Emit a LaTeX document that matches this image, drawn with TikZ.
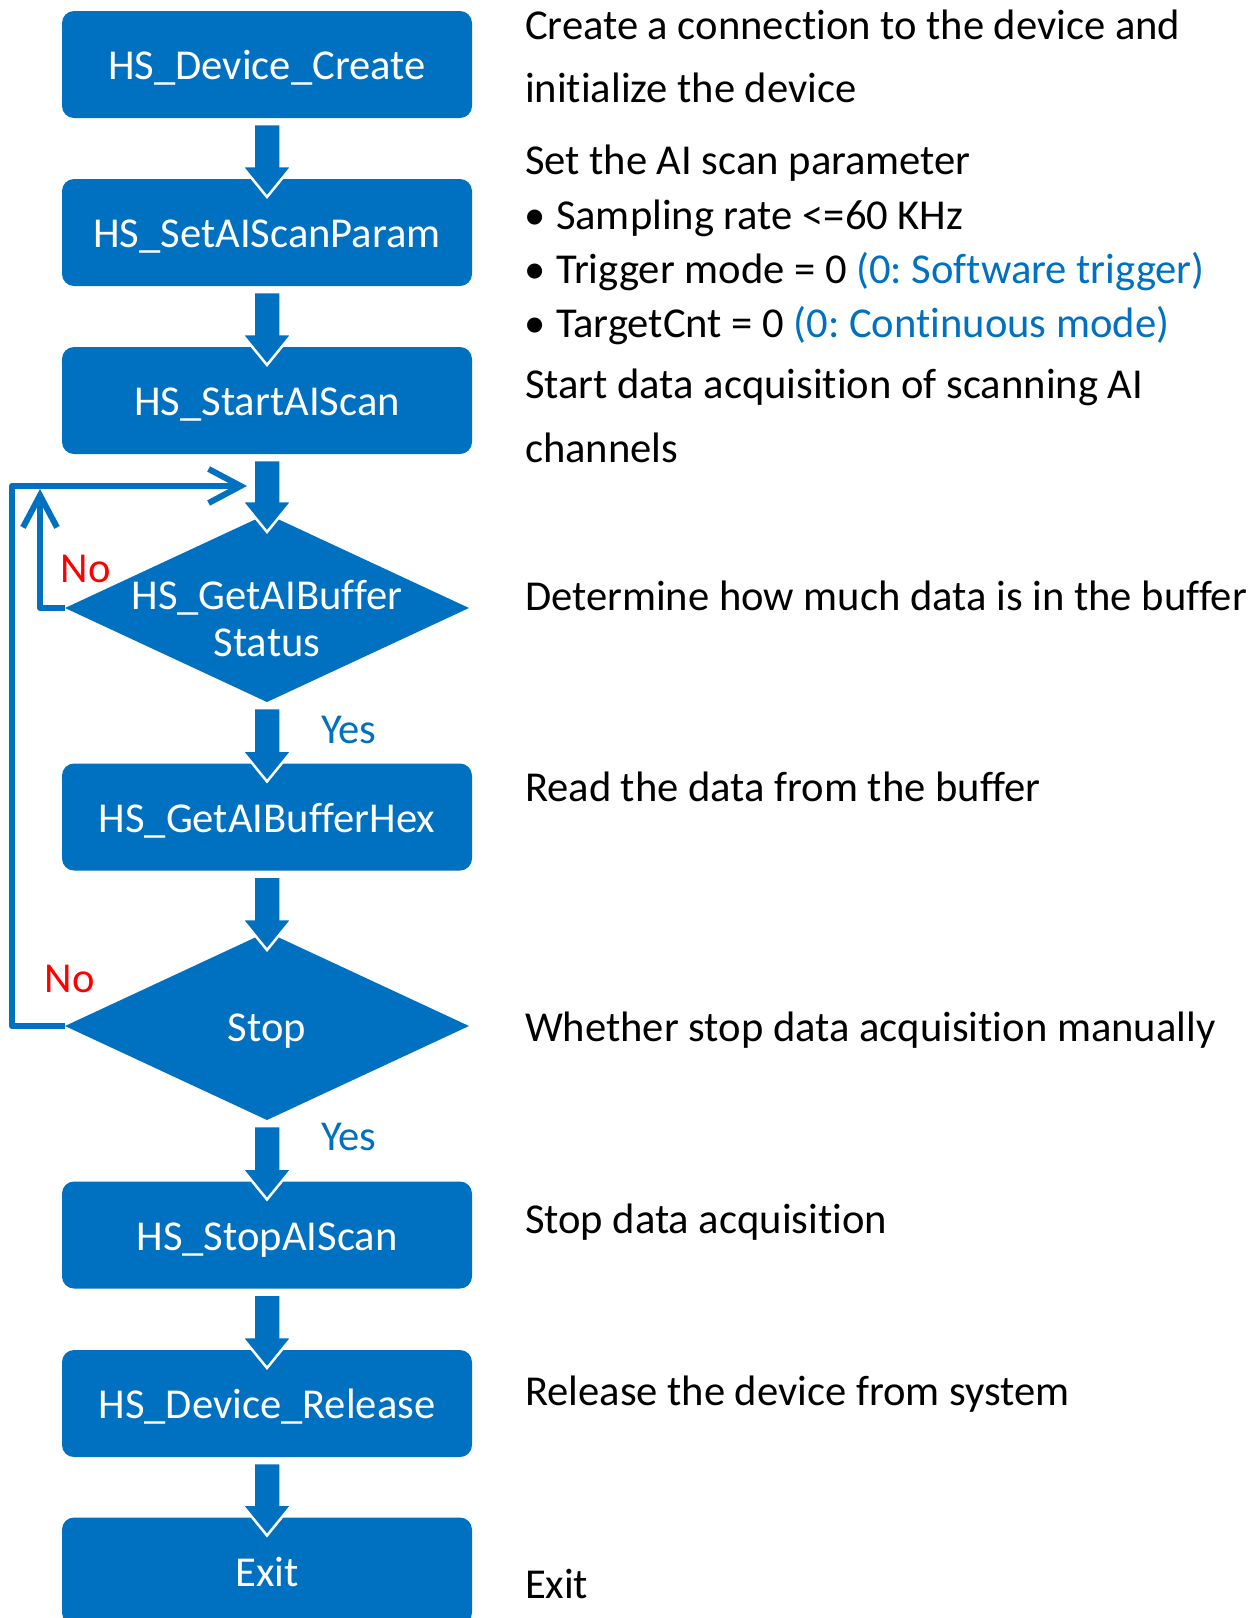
\documentclass[tikz,border=0pt]{standalone}
\usepackage{fontspec}
\setmainfont{Carlito}[Ligatures={NoCommon}]
\usetikzlibrary{shapes.geometric,arrows.meta,calc}
\definecolor{flowblue}{HTML}{0070C0}
\definecolor{nored}{HTML}{FF0000}

% thick block arrow from the bottom of one node into the top of the next
\newcommand\blockarrow[2]{%
  \fill[flowblue, draw=white, line width=1.25pt, line join=miter]
    let \p1=(#1.south), \p2=(#2.north) in
    (\x1-6.75pt,\y1-3pt) -- (\x1+6.75pt,\y1-3pt) -- (\x1+6.75pt,\y2+6.5pt)
    -- (\x1+12.6pt,\y2+6.5pt) -- (\x1,\y2-9pt) -- (\x1-12.6pt,\y2+6.5pt)
    -- (\x1-6.75pt,\y2+6.5pt) -- cycle;}

\tikzset{
  every node/.style={inner sep=0pt, outer sep=0pt},
  stepbox/.style={rectangle, rounded corners=6pt, fill=flowblue, text=white,
    minimum width=205pt, minimum height=53.5pt, text height=15pt, text depth=0pt},
  decision/.style={diamond, fill=flowblue, text=white,
    minimum width=202pt, minimum height=94pt, text height=15pt, text depth=0pt},
  onblue/.style={text=white, anchor=base},
  note/.style={anchor=base west, text=black},
  yeslabel/.style={anchor=base west, text=flowblue},
  nolabel/.style={anchor=base west, text=nored},
  loopline/.style={draw=flowblue, line width=3pt, line join=round,
    -{Straight Barb[length=16pt, width=17pt, sharp]}},
}

\begin{document}
\frenchspacing
\begin{tikzpicture}[x=0.5pt, y=-0.5pt, font=\fontsize{21.3pt}{24pt}\selectfont]
\useasboundingbox (0,0) rectangle (1258,1618);
\clip (0,0) rectangle (1258,1618);

% flow steps
\node[stepbox] (create)  at (267,64.5)  {HS\_Device\_Create};
\node[stepbox] (param)   at (267,232.5) {HS\_SetAIScanParam};
\node[stepbox] (start)   at (267,400.5) {HS\_StartAIScan};
\node[decision] (status) at (267,608)   {};
\node[onblue] (status-l1) at (267,609) {HS\_GetAIBuffer};
\node[onblue] (status-l2) at (267,656) {Status};
\node[stepbox] (hex)     at (267,817)   {HS\_GetAIBufferHex};
\node[decision] (stop)   at (267,1026)  {Stop};
\node[stepbox] (stopscan) at (267,1235) {HS\_StopAIScan};
\node[stepbox] (release) at (267,1403.5) {HS\_Device\_Release};
\node[stepbox] (exit)    at (267,1571)  {Exit};

% main flow
\blockarrow{create}{param}
\blockarrow{param}{start}
\blockarrow{start}{status}
\blockarrow{status}{hex}
\blockarrow{hex}{stop}
\blockarrow{stop}{stopscan}
\blockarrow{stopscan}{release}
\blockarrow{release}{exit}

% feedback loops
\coordinate (inner-top) at (40,489);
\coordinate (loop-corner) at (12,486);
\coordinate (loop-end) at (247,486);
\draw[loopline] (status.west) -| (inner-top);
\draw[loopline] (stop.west) -| (loop-corner) -- (loop-end);

% branch labels
\node[nolabel] (no1) at (61,582) {No};
\node[nolabel] (no2) at (45,992) {No};
\node[yeslabel] (yes1) at (321,743) {Yes};
\node[yeslabel] (yes2) at (321,1150) {Yes};

% descriptions
\node[note] (create-n1) at (525,39) {Create a connection to the device and};
\node[note] (create-n2) at (525,102) {initialize the device};
\node[note] (param-n1) at (525,174) {Set the AI scan parameter};
\node[note] (param-b1) at (524,229) {•};
\node[note] (param-n2) at (556,229) {Sampling rate <=60 KHz};
\node[note] (param-b2) at (524,283) {•};
\node[note] (param-n3) at (556,283) {Trigger mode = 0 {\color{flowblue}(0: Software trigger)}};
\node[note] (param-b3) at (524,337) {•};
\node[note] (param-n4) at (556,337) {TargetCnt = 0 {\color{flowblue}(0: Continuous mode)}};
\node[note] (start-n1) at (525,398) {Start data acquisition of scanning AI};
\node[note] (start-n2) at (525,462) {channels};
\node[note] (status-n) at (525,610) {Determine how much data is in the buffer};
\node[note] (hex-n) at (525,801) {Read the data from the buffer};
\node[note] (stop-n) at (525,1041) {Whether stop data acquisition manually};
\node[note] (stopscan-n) at (525,1233) {Stop data acquisition};
\node[note] (release-n) at (525,1405) {Release the device from system};
\node[note] (exit-n) at (525,1598) {Exit};
\end{tikzpicture}
\end{document}
